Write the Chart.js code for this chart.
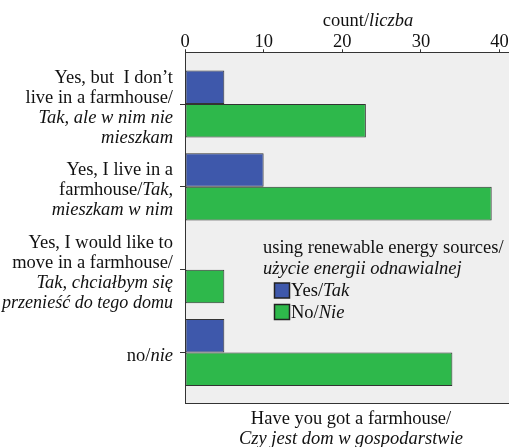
<!DOCTYPE html>
<html><head><meta charset="utf-8">
<script src="https://cdn.jsdelivr.net/npm/chart.js@4"></script>
<style>html,body{margin:0;padding:0;background:#fff}#wrap{width:509px;height:447px;position:relative}</style>
</head><body><div id="wrap"><canvas id="c"></canvas></div>
<script>
// ---- data (asterisks mark italic text, | separates lines) ----
const categories = [
  "Yes, but  I don’t|live in a farmhouse/|*Tak, ale w nim nie*|*mieszkam*",
  "Yes, I live in a|farmhouse/*Tak,*|*mieszkam w nim*",
  "Yes, I would like to|move in a farmhouse/|*Tak, chciałbym się*|*przenieść do tego domu*",
  "no/*nie*"
];
const yesValues = [5, 10, 0, 5];
const noValues = [23, 39, 5, 34];
const seriesNames = ["Yes/*Tak*", "No/*Nie*"];
const xTicks = [0, 10, 20, 30, 40];
const xTitle = "count/*liczba*";
const yTitle = "Have you got a farmhouse/|*Czy jest dom w gospodarstwie*";
const legendTitle = "using renewable energy sources/|*użycie energii odnawialnej*";

const FONT = "'Liberation Serif', 'Times New Roman', serif";
const FS = 18.5;
const TXT = '#111111';
const LINE = '#333333';
const BLUE = '#3e58ab';
const GREEN = '#2eb84b';

function segs(line){ return line.split('*').map((t,i)=>({t, it: i%2===1})).filter(s=>s.t.length); }
function font(it){ return (it?'italic ':'') + FS + 'px ' + FONT; }
function lineWidth(ctx, line){ let w=0; for(const s of segs(line)){ctx.font=font(s.it); w+=ctx.measureText(s.t).width;} return w; }
function drawLine(ctx, line, x, y, align, maxW){
  const w0 = lineWidth(ctx, line);
  const k = (maxW && w0 > maxW) ? maxW / w0 : 1;
  const w = w0 * k;
  let cx = align==='right'? x-w : align==='center'? x-w/2 : x;
  ctx.save();
  ctx.translate(cx, y); ctx.scale(k, 1);
  let px = 0;
  for(const s of segs(line)){ ctx.font=font(s.it); ctx.fillText(s.t, px, 0); px += ctx.measureText(s.t).width; }
  ctx.restore();
}
const LH = 20, BASE = 6;

const decor = {
  id: 'decor',
  beforeDraw(chart){
    const {ctx, chartArea:a} = chart;
    ctx.save();
    ctx.fillStyle = '#efefef';
    ctx.fillRect(a.left, a.top, a.right - a.left, a.bottom - a.top);
    ctx.restore();
  },
  afterDraw(chart){
    const {ctx, chartArea:a} = chart;
    const y = chart.scales.y;
    ctx.save();
    ctx.strokeStyle = LINE; ctx.lineWidth = 1;
    ctx.beginPath(); ctx.moveTo(a.left, Math.round(a.bottom)+0.5); ctx.lineTo(a.right, Math.round(a.bottom)+0.5); ctx.stroke();
    ctx.fillStyle = TXT; ctx.textBaseline = 'alphabetic';
    categories.forEach((c, i) => {
      const lines = c.split('|');
      const cy = y.getPixelForValue(i) + 2.5;
      const top = cy - (lines.length - 1) * LH / 2;
      lines.forEach((l, k) => drawLine(ctx, l, a.left - 12, top + k * LH + BASE, 'right', a.left - 12 - 2));
    });
    drawLine(ctx, xTitle, 368, 20 + BASE, 'center');
    yTitle.split('|').forEach((l, k) => drawLine(ctx, l, 351, 418 + k * LH + BASE, 'center'));
    legendTitle.split('|').forEach((l, k) => drawLine(ctx, l, 263, 247 + k * 21 + BASE, 'left'));
    chart.data.datasets.forEach((ds, k) => {
      const cy = 290 + k * 21.5;
      ctx.fillStyle = ds.backgroundColor;
      ctx.fillRect(274.5, cy - 7, 15, 15);
      ctx.strokeStyle = '#222'; ctx.lineWidth = 1.5;
      ctx.strokeRect(274.5, cy - 7, 15, 15);
      ctx.fillStyle = TXT;
      drawLine(ctx, seriesNames[k], 291, cy + BASE, 'left');
    });
    ctx.restore();
  }
};

new Chart(document.getElementById('c'), {
  type: 'bar',
  data: {
    datasets: [
      { label: 'Yes/Tak', data: yesValues.map((v,i)=>({x:v, y:i})), backgroundColor: BLUE, borderColor: LINE, borderWidth: 1, borderSkipped: false },
      { label: 'No/Nie', data: noValues.map((v,i)=>({x:v, y:i})), backgroundColor: GREEN, borderColor: LINE, borderWidth: 1, borderSkipped: false }
    ]
  },
  options: {
    indexAxis: 'y',
    responsive: true,
    maintainAspectRatio: false,
    animation: false,
    layout: { padding: { left: 0, right: 0, top: 0, bottom: 44 } },
    categoryPercentage: 0.81,
    barPercentage: 1.0,
    plugins: { legend: { display: false }, tooltip: { enabled: false } },
    scales: {
      x: {
        type: 'linear', position: 'top', min: 0, max: 41.2,
        afterBuildTicks: s => { s.ticks = xTicks.map(v => ({value: v})); },
        afterFit: s => { s.height = 52.3; },
        ticks: { stepSize: 10, includeBounds: false, color: TXT, font: { family: FONT, size: FS }, padding: -4, maxRotation: 0 },
        grid: { drawOnChartArea: false, drawTicks: true, tickLength: 3, color: LINE },
        border: { display: true, color: LINE, width: 1 }
      },
      y: {
        type: 'linear', reverse: true, min: -0.625, max: 3.61, offset: false,
        afterBuildTicks: s => { s.ticks = categories.map((c, i) => ({value: i})); },
        afterFit: s => { s.width = 185; },
        ticks: { display: false },
        grid: { offset: false, drawOnChartArea: false, drawTicks: true, tickLength: 5, color: LINE },
        border: { display: true, color: LINE, width: 1 }
      }
    }
  },
  plugins: [decor]
});
</script>
</body></html>
